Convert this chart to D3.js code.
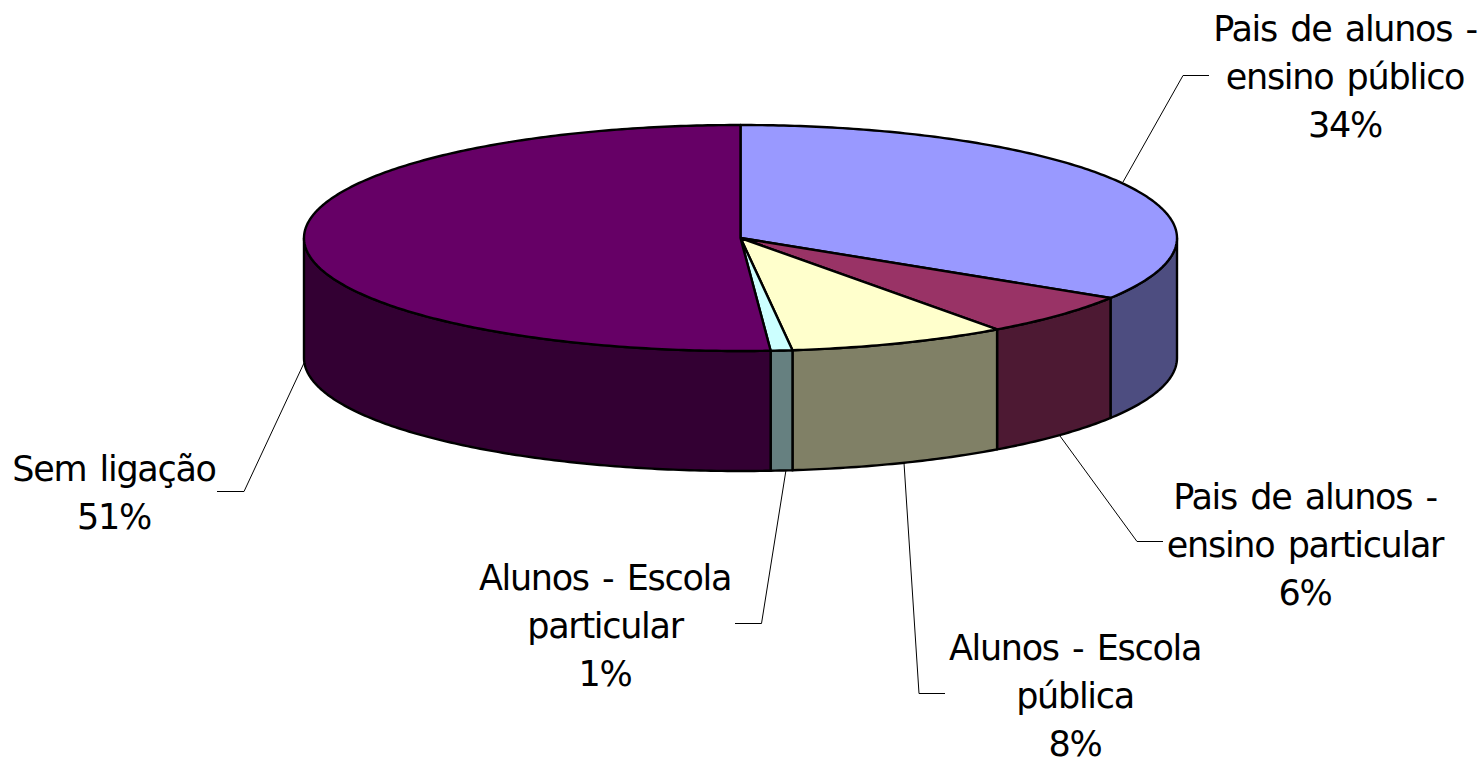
<!DOCTYPE html>
<html>
<head>
<meta charset="utf-8">
<script src="https://cdn.jsdelivr.net/npm/d3@7"></script>
<style>
html, body { margin: 0; padding: 0; background: #fff; }
svg { display: block; }
text { font-family: "DejaVu Sans", sans-serif; font-size: 35px; letter-spacing: -1.3px; word-spacing: 3.5px; fill: #000; text-anchor: middle; }
.leader { fill: none; stroke: #000; stroke-width: 1; }
.face { stroke: #000; stroke-width: 2.4; stroke-linejoin: round; }
</style>
</head>
<body>
<div class="chart"></div>
<script>
// data, clockwise from 12 o'clock
const labels = [
    ["Pais de alunos -", "ensino público"],
    ["Pais de alunos -", "ensino particular"],
    ["Alunos - Escola", "pública"],
    ["Alunos - Escola", "particular"],
    ["Sem ligação"]
];
const values = [33.9, 6.1, 8.1, 0.8, 51.1];
const topColors = ["#9999ff", "#993366", "#ffffcc", "#ccffff", "#660066"];
const sideColors = ["#4d4d80", "#4d1933", "#808066", "#668080", "#330033"];

// label centre x and first baseline y
const labelX = [1345, 1305, 1075, 605, 114];
const labelY = [41, 509, 660, 590, 481];
const lineHeight = 48;

// leader lines: the elbow and the end of the horizontal bit
const leaders = [
    [[1123, 182], [1183, 75.5], [1209, 75.5]],
    [[1060, 436], [1137, 541.5], [1163, 541.5]],
    [[904, 463], [919, 693.5], [945, 693.5]],
    [[786, 470], [761.5, 623.5], [735, 623.5]],
    [[304, 363], [244, 491.5], [217, 491.5]]
];

const width = 1482, height = 760;
const depth = 120;

const svg = d3.select(".chart")
    .append("svg")
    .attr("width", width)
    .attr("height", height);

// unit circle squashed onto the top ellipse
const xScale = d3.scaleLinear().domain([-1, 1]).range([304, 1177]);
const yScale = d3.scaleLinear().domain([-1, 1]).range([125, 351]);

const pie = d3.pie().sort(null).value(d => d);
const slices = pie(values);

const line = d3.line();

function rim(a0, a1, dy) {
    const n = Math.max(2, Math.ceil((a1 - a0) * 80));
    return d3.range(n + 1).map(i => {
        const a = a0 + (a1 - a0) * i / n;
        return [xScale(Math.sin(a)), yScale(-Math.cos(a)) + dy];
    });
}

// walls, only the front half of the rim shows
slices.forEach((s, i) => {
    const a0 = Math.max(s.startAngle, Math.PI / 2);
    const a1 = Math.min(s.endAngle, Math.PI * 1.5);
    if (a1 <= a0) return;
    const pts = rim(a0, a1, 0).concat(rim(a0, a1, depth).reverse());
    svg.append("path")
        .attr("class", "face")
        .attr("d", line(pts) + "Z")
        .attr("fill", sideColors[i]);
});

// top faces
slices.forEach((s, i) => {
    const pts = [[xScale(0), yScale(0)]].concat(rim(s.startAngle, s.endAngle, 0));
    svg.append("path")
        .attr("class", "face")
        .attr("d", line(pts) + "Z")
        .attr("fill", topColors[i]);
});

svg.selectAll(".leader")
    .data(leaders)
    .enter()
    .append("path")
    .attr("class", "leader")
    .attr("d", d => line(d));

labels.forEach((lab, i) => {
    const total = d3.sum(values);
    const rows = lab.concat(Math.round(values[i] / total * 100) + "%");
    const t = svg.append("text");
    rows.forEach((r, j) => {
        t.append("tspan")
            .attr("x", labelX[i])
            .attr("y", labelY[i] + j * lineHeight)
            .text(r);
    });
});
</script>
</body>
</html>
